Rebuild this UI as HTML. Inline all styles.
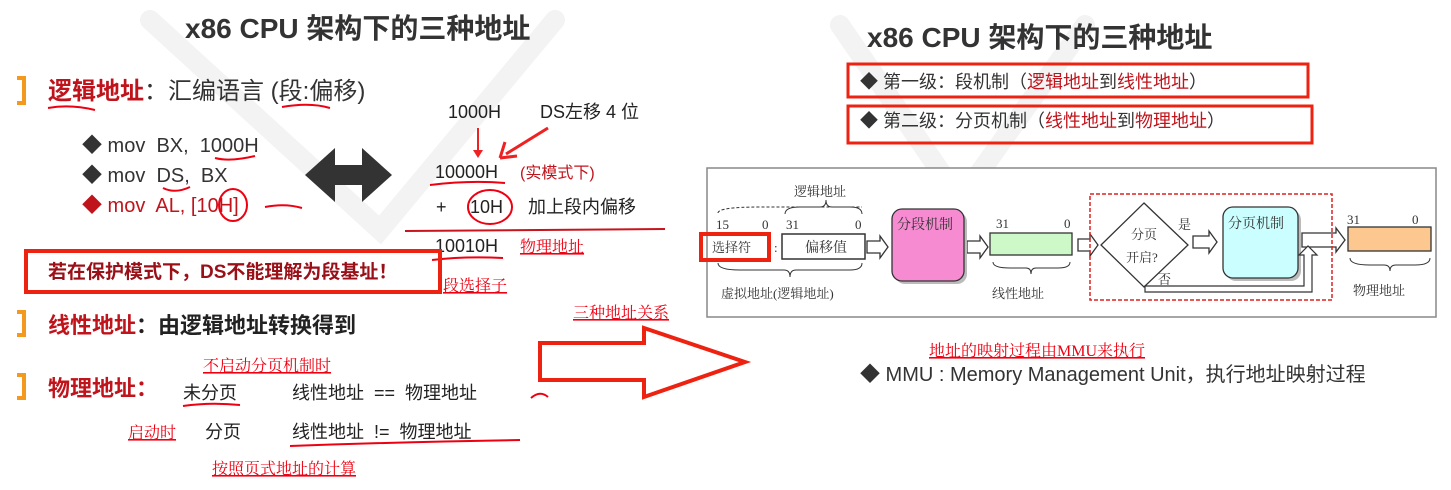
<!DOCTYPE html>
<html><head><meta charset="utf-8"><style>
html,body{margin:0;padding:0;background:#fff;}
svg{display:block}
text{white-space:pre}
.s{font-family:"Liberation Sans","Noto Sans CJK SC",sans-serif;}
.f{font-family:"Liberation Serif","Noto Serif CJK SC",serif;}
</style></head><body>
<svg width="1451" height="490" viewBox="0 0 1451 490" xmlns="http://www.w3.org/2000/svg">
<g stroke="#f3f3f3" stroke-width="20" fill="none" stroke-linecap="round">
<polyline points="150,20 380,230 555,20"/>
<polyline points="840,25 960,200 1085,25"/>
</g>
<text class="s" x="185" y="38" font-size="28" font-weight="bold" fill="#333">x86 CPU 架构下的三种地址</text>
<text class="s" x="867" y="47" font-size="28" font-weight="bold" fill="#333">x86 CPU 架构下的三种地址</text>

<g fill="none" stroke="#f39a1e" stroke-width="4">
<path d="M17,78 L24,78 L24,103 L17,103"/>
<path d="M17,312 L24,312 L24,335 L17,335"/>
<path d="M17,375 L24,375 L24,398 L17,398"/>
</g>
<text class="s" x="48" y="99" font-size="24" font-weight="bold" fill="#c0141c">逻辑地址<tspan fill="#333" font-weight="normal">：汇编语言 (段:偏移)</tspan></text>
<path d="M48,108 Q70,104 95,110" stroke="#e01" stroke-width="2" fill="none"/>
<path d="M282,107 Q310,102 330,108" stroke="#e01" stroke-width="2" fill="none"/>

<g class="s" font-size="20">
<text x="82" y="152" fill="#333">◆ mov  BX,  1000H</text>
<text x="82" y="182" fill="#333">◆ mov  DS,  BX</text>
<text x="82" y="212" fill="#c0141c">◆ mov  AL, [10H]</text>
</g>
<path d="M215,158 Q230,162 255,156" stroke="#e01" stroke-width="2" fill="none"/>
<path d="M163,188 Q175,194 190,187" stroke="#e01" stroke-width="2" fill="none"/>
<ellipse cx="233" cy="205" rx="14" ry="16" stroke="#e01" stroke-width="2" fill="none"/>
<path d="M265,207 Q285,203 302,208" stroke="#e01" stroke-width="2" fill="none"/>
<polygon points="305,175 335,148 335,165 362,165 362,148 392,175 362,202 362,185 335,185 335,202" fill="#333"/>

<g class="s" font-size="18" fill="#222">
<text x="448" y="118">1000H</text>
<text x="540" y="118">DS左移 4 位</text>
<text x="435" y="178">10000H</text>
<text x="436" y="213">+</text>
<text x="470" y="213">10H</text>
<text x="528" y="213">加上段内偏移</text>
<text x="435" y="252">10010H</text>
</g>
<text class="s" x="520" y="178" font-size="16" fill="#c0141c">(实模式下)</text>
<line x1="478" y1="128" x2="478" y2="152" stroke="#e22" stroke-width="2"/>
<polygon points="473,150 483,150 478,158" fill="#e22"/>
<line x1="548" y1="128" x2="506" y2="154" stroke="#e22" stroke-width="3"/>
<path d="M500,158 L505,142 M500,158 L517,156" stroke="#e22" stroke-width="3" fill="none"/>
<path d="M430,185 Q470,180 505,183" stroke="#e01" stroke-width="2" fill="none"/>
<ellipse cx="490" cy="207" rx="22" ry="17" stroke="#e01" stroke-width="2" fill="none"/>
<line x1="405" y1="231" x2="665" y2="229" stroke="#c8141c" stroke-width="2"/>
<path d="M432,260 Q465,256 503,258" stroke="#e01" stroke-width="2" fill="none"/>
<text class="f" x="520" y="252" font-size="16" fill="#e01" text-decoration="underline">物理地址</text>

<rect x="26" y="251" width="414" height="41" fill="none" stroke="#e21" stroke-width="4"/>
<text class="s" x="48" y="278" font-size="19" font-weight="bold" fill="#9a1018">若在保护模式下，DS不能理解为段基址！</text>
<text class="f" x="443" y="291" font-size="16" fill="#e01" text-decoration="underline">段选择子</text>

<text class="s" x="48" y="333" font-size="22" font-weight="bold" fill="#222"><tspan fill="#c0141c">线性地址</tspan>：由逻辑地址转换得到</text>
<text class="f" x="573" y="318" font-size="16" fill="#e01" text-decoration="underline">三种地址关系</text>

<text class="s" x="48" y="396" font-size="22" font-weight="bold" fill="#c0141c">物理地址：</text>
<text class="f" x="203" y="371" font-size="16" fill="#e01" text-decoration="underline">不启动分页机制时</text>
<g class="s" font-size="18" fill="#222">
<text x="183" y="399">未分页</text>
<text x="292" y="399">线性地址  ==  物理地址</text>
<text x="205" y="438">分页</text>
<text x="292" y="438">线性地址  !=  物理地址</text>
</g>
<path d="M183,406 Q210,402 240,405" stroke="#e01" stroke-width="2" fill="none"/>
<path d="M531,398 Q540,390 548,397" stroke="#e01" stroke-width="2" fill="none"/>
<path d="M290,446 Q400,442 520,440" stroke="#e01" stroke-width="2" fill="none"/>
<text class="f" x="128" y="438" font-size="16" fill="#e01" text-decoration="underline">启动时</text>
<text class="f" x="212" y="474" font-size="16" fill="#e01" text-decoration="underline">按照页式地址的计算</text>

<polygon points="540,343 644,343 644,328 745,362 644,397 644,380 540,380" fill="none" stroke="#e21" stroke-width="4"/>

<rect x="848" y="64" width="460" height="33" fill="none" stroke="#e21" stroke-width="3"/>
<rect x="848" y="106" width="464" height="37" fill="none" stroke="#e21" stroke-width="3"/>
<g class="s" font-size="18" fill="#333">
<text x="860" y="88">◆ 第一级：段机制（<tspan fill="#c0141c">逻辑地址</tspan>到<tspan fill="#c0141c">线性地址</tspan>）</text>
<text x="860" y="127">◆ 第二级：分页机制（<tspan fill="#c0141c">线性地址</tspan>到<tspan fill="#c0141c">物理地址</tspan>）</text>
</g>

<rect x="707" y="168" width="729" height="149" fill="#fff" stroke="#888" stroke-width="1.5"/>
<path d="M718,213 Q718,207 760,207 L862,207" stroke="#333" stroke-dasharray="3,2" fill="none"/>
<path d="M785,214 Q785,207 800,207 L820,207 Q826,207 826,200 Q826,207 832,207 L850,207 Q862,207 862,214" stroke="#333" fill="none"/>
<path d="M718,263 Q718,270 740,270 L784,270 Q790,270 790,277 Q790,270 796,270 L850,270 Q862,270 862,263" stroke="#333" fill="none"/>
<rect x="782" y="234" width="83" height="25" fill="#fff" stroke="#333" stroke-width="1.5"/>
<g fill="#fff" stroke="#333" stroke-width="1.3">
<polygon points="867,241 880,241 880,236 888,247 880,258 880,253 867,253"/>
<polygon points="967,241 980,241 980,236 988,247 980,258 980,253 967,253"/>
<polygon points="1078,239 1090,239 1090,234 1098,245 1090,256 1090,251 1078,251"/>
<polygon points="1193,236 1209,236 1209,231 1217,242 1209,253 1209,248 1193,248"/>
<polygon points="1302,233 1336,233 1336,228 1345,240 1336,252 1336,247 1302,247"/>
</g>
<rect x="895" y="212" width="72" height="72" rx="10" fill="#bbb"/>
<rect x="892" y="209" width="72" height="72" rx="10" fill="#f78bd2" stroke="#333" stroke-width="1.3"/>
<rect x="990" y="233" width="82" height="22" fill="#cdf8c8" stroke="#333" stroke-width="1.3"/>
<path d="M993,262 Q993,268 1010,268 L1026,268 Q1031,268 1031,274 Q1031,268 1036,268 L1058,268 Q1070,268 1070,262" stroke="#333" fill="none"/>
<rect x="1090" y="194" width="242" height="106" fill="none" stroke="#d22" stroke-width="1.5" stroke-dasharray="4,2"/>
<polygon points="1144,203 1188,245 1144,287 1101,245" fill="#fff" stroke="#333" stroke-width="1.3"/>
<rect x="1226" y="210" width="75" height="71" rx="10" fill="#bbb"/>
<rect x="1223" y="207" width="75" height="71" rx="10" fill="#cbffff" stroke="#333" stroke-width="1.3"/>
<path d="M1145,286 L1145,292 L1312,292 L1312,255 L1317,255 L1308,246 L1299,255 L1304,255 L1304,286 Z" fill="#fff" stroke="#333" stroke-width="1.2"/>
<rect x="1348" y="227" width="83" height="24" fill="#fcc890" stroke="#333" stroke-width="1.3"/>
<path d="M1350,258 Q1350,265 1370,265 L1384,265 Q1390,265 1390,271 Q1390,265 1396,265 L1415,265 Q1430,265 1430,258" stroke="#333" fill="none"/>
<g class="f" font-size="13" fill="#333">
<text x="716" y="229">15</text><text x="762" y="229">0</text>
<text x="786" y="229">31</text><text x="855" y="229">0</text>
<text x="712" y="252">选择符</text><text x="774" y="252">:</text>
<text x="805" y="252" font-size="14">偏移值</text>
<text x="794" y="196">逻辑地址</text>
<text x="721" y="298">虚拟地址(逻辑地址)</text>
<text x="897" y="229" font-size="14">分段机制</text>
<text x="996" y="228">31</text><text x="1064" y="228">0</text>
<text x="992" y="298">线性地址</text>
<text x="1131" y="239">分页</text><text x="1126" y="262">开启?</text>
<text x="1178" y="229">是</text><text x="1158" y="284">否</text>
<text x="1228" y="228" font-size="14">分页机制</text>
<text x="1347" y="224">31</text><text x="1412" y="224">0</text>
<text x="1353" y="295">物理地址</text>
</g>
<rect x="701" y="234" width="68" height="26" fill="none" stroke="#e21" stroke-width="4"/>

<text class="f" x="929" y="356" font-size="16" fill="#e01" text-decoration="underline">地址的映射过程由MMU来执行</text>
<text class="s" x="860" y="381" font-size="20" fill="#333">◆ MMU : Memory Management Unit，执行地址映射过程</text>
</svg>
</body></html>
